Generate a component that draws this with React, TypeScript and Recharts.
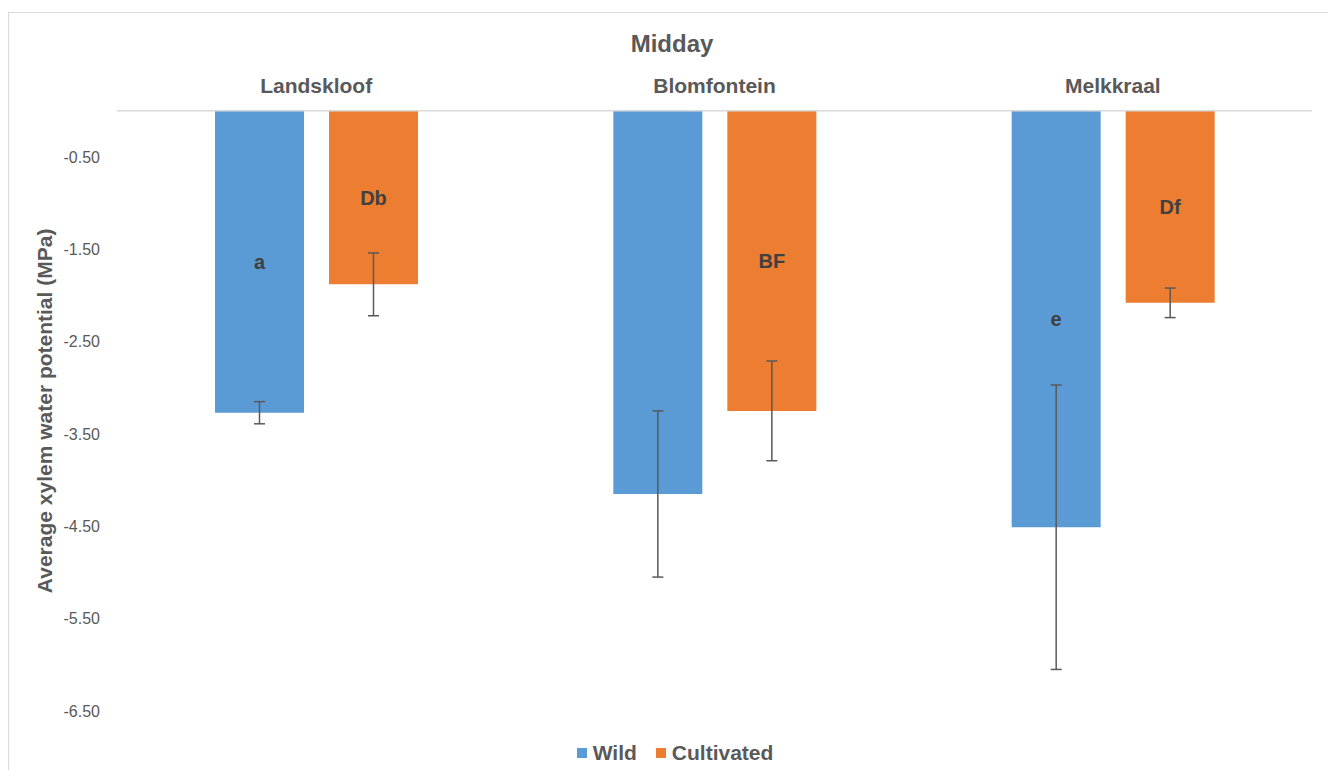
import React from 'react';
import { BarChart, Bar, XAxis, YAxis, ErrorBar, LabelList, Legend, Label } from 'recharts';

const sites = ['Landskloof', 'Blomfontein', 'Melkkraal'];
const wildMeans = [-3.27, -4.15, -4.51];
const wildErrors = [0.12, 0.9, 1.54];
const cultivatedMeans = [-1.88, -3.25, -2.08];
const cultivatedErrors = [0.34, 0.54, 0.16];
const wildLetters = ['a', '', 'e'];
const cultivatedLetters = ['Db', 'BF', 'Df'];
const seriesNames = ['Wild', 'Cultivated'];
const yTicks = [-6.5, -5.5, -4.5, -3.5, -2.5, -1.5, -0.5];

const data = sites.map((site, i) => ({
  site,
  wild: wildMeans[i],
  wildErr: wildErrors[i],
  wildLetter: wildLetters[i],
  cultivated: cultivatedMeans[i],
  cultivatedErr: cultivatedErrors[i],
  cultivatedLetter: cultivatedLetters[i],
}));

const FONT = '"Liberation Sans", Arial, Helvetica, sans-serif';
const TEXT = '#595959';
const WILD = '#5B9BD5';
const CULTIVATED = '#ED7D31';

// significance letters centred in each bar
function renderLetter(props: any) {
  const { value } = props;
  if (!value) return null;
  const vb = props.viewBox ?? props;
  const top = Math.min(vb.y, vb.y + vb.height);
  const bottom = Math.max(vb.y, vb.y + vb.height);
  return (
    <text
      x={vb.x + vb.width / 2}
      y={(top + bottom) / 2}
      dy="0.35em"
      textAnchor="middle"
      fill="#404040"
      fontFamily={FONT}
      fontSize={20}
      fontWeight="bold"
    >
      {value}
    </text>
  );
}

function renderYLabel(props: any) {
  const vb = props.viewBox ?? { y: 97.75, height: 600.25 };
  const cx = 36;
  const cy = vb.y + vb.height / 2;
  return (
    <text
      x={cx}
      y={cy}
      dy="0.35em"
      textAnchor="middle"
      transform={`rotate(-90, ${cx}, ${cy})`}
      fill={TEXT}
      fontFamily={FONT}
      fontSize={21}
      fontWeight="bold"
    >
      Average xylem water potential (MPa)
    </text>
  );
}

function renderLegend(props: any) {
  const items = [...(props.payload ?? [])].sort(
    (a: any, b: any) => seriesNames.indexOf(a.value) - seriesNames.indexOf(b.value)
  );
  return (
    <div
      style={{
        display: 'flex',
        justifyContent: 'center',
        alignItems: 'center',
        paddingLeft: 6,
        fontFamily: FONT,
        fontSize: 21,
        fontWeight: 'bold',
        lineHeight: '21px',
        color: TEXT,
      }}
    >
      {items.map((entry: any, i: number) => (
        <div key={entry.value} style={{ display: 'flex', alignItems: 'center', marginLeft: i ? 19 : 0 }}>
          <span style={{ display: 'inline-block', width: 10, height: 10, background: entry.color, marginRight: 6 }} />
          <span>{entry.value}</span>
        </div>
      ))}
    </div>
  );
}

export default function App() {
  return (
    <div style={{ height: 762, overflow: 'hidden' }}>
      <div
        style={{
          position: 'relative',
          marginTop: 4,
          width: 1326,
          height: 790,
          border: '1px solid #D9D9D9',
          background: '#fff',
        }}
      >
        <div
          style={{
            position: 'absolute',
            top: 19,
            left: 0,
            width: '100%',
            textAlign: 'center',
            fontFamily: FONT,
            fontSize: 24,
            fontWeight: 'bold',
            lineHeight: '24px',
            color: TEXT,
          }}
        >
          Midday
        </div>
        <BarChart
          width={1326}
          height={770}
          data={data}
          margin={{ top: 57.75, right: 23, bottom: 72, left: 48 }}
          barSize={89}
          barGap={25}
        >
          <XAxis
            dataKey="site"
            orientation="top"
            height={40}
            interval={0}
            axisLine={{ stroke: '#D9D9D9', strokeWidth: 1.5 }}
            tickLine={false}
            tickSize={0}
            tickMargin={18}
            tick={{ fill: TEXT, fontSize: 21, fontWeight: 'bold', fontFamily: FONT }}
          />
          <YAxis
            type="number"
            domain={[-6.5, 0]}
            ticks={yTicks}
            width={60}
            axisLine={false}
            tickLine={false}
            tickSize={0}
            tickMargin={17}
            tickFormatter={(v: number) => v.toFixed(2)}
            tick={{ fill: TEXT, fontSize: 16, fontFamily: FONT }}
          >
            <Label content={renderYLabel} />
          </YAxis>
          <Legend
            verticalAlign="middle"
            align="center"
            content={renderLegend}
            wrapperStyle={{ top: 729, left: 0, width: 1326, height: 21 }}
          />
          <Bar dataKey="wild" name={seriesNames[0]} fill={WILD} isAnimationActive={false}>
            <ErrorBar dataKey="wildErr" direction="y" width={5.5} stroke="#595959" strokeWidth={1.5} isAnimationActive={false} />
            <LabelList dataKey="wildLetter" content={renderLetter} />
          </Bar>
          <Bar dataKey="cultivated" name={seriesNames[1]} fill={CULTIVATED} isAnimationActive={false}>
            <ErrorBar dataKey="cultivatedErr" direction="y" width={5.5} stroke="#595959" strokeWidth={1.5} isAnimationActive={false} />
            <LabelList dataKey="cultivatedLetter" content={renderLetter} />
          </Bar>
        </BarChart>
      </div>
    </div>
  );
}
